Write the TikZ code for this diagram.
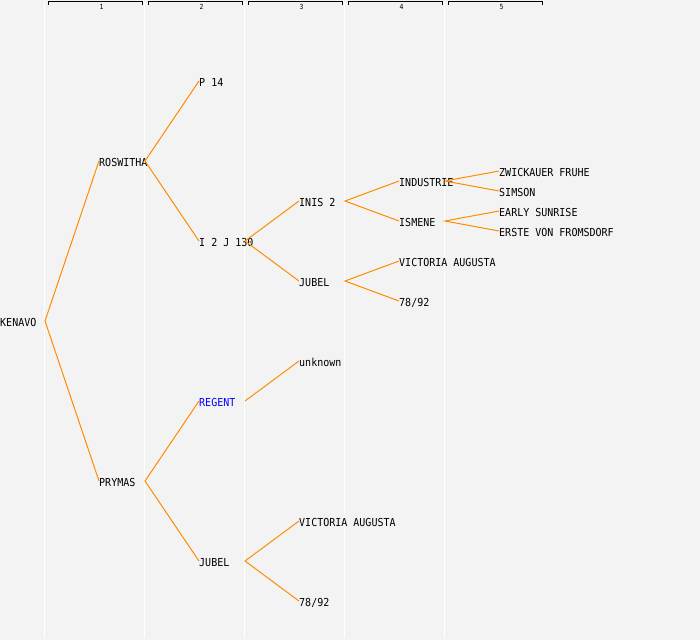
\documentclass[tikz,border=0pt]{standalone}
\usepackage{fontspec}
\setmonofont{DejaVu Sans Mono}[FakeStretch=0.91]
\definecolor{bgray}{HTML}{F3F3F3}
\definecolor{lineorange}{HTML}{FF8C00}
\definecolor{regentblue}{HTML}{0000FF}
\begin{document}
\begin{tikzpicture}[x=1pt,y=-1pt,
  lbl/.style={anchor=west, inner sep=0pt, text height=10.5pt, text depth=0pt,
    font=\ttfamily\fontsize{11}{11}\selectfont},
  hdr/.style={inner sep=0pt, font=\ttfamily\fontsize{7}{7}\selectfont},
  link/.style={draw=lineorange, line width=1pt},
  colline/.style={draw=white, line width=1pt},
  bracket/.style={draw=black, line width=1pt}]
\useasboundingbox (0,0) rectangle (700,640);
\fill[bgray] (0,0) rectangle (700,640);
% column separators
\foreach \x in {44.5,144.5,244.5,344.5,444.5} \draw[colline] (\x,2) -- (\x,638);
% header brackets and numbers
\foreach \i in {1,...,5} {
  \draw[bracket] ({48.5+100*(\i-1)},4.5) -- ({48.5+100*(\i-1)},1.5) -- ({142.5+100*(\i-1)},1.5) -- ({142.5+100*(\i-1)},4.5);
  \node[hdr] (h\i) at ({101.5+100*(\i-1)},6.5) {\i};
}
% nodes
\node[lbl] (kenavo) at (0,321) {KENAVO};
\node[lbl] (roswitha) at (99,161) {ROSWITHA};
\node[lbl] (prymas) at (99,481) {PRYMAS};
\node[lbl] (p14) at (199,81) {P 14};
\node[lbl] (i2j) at (199,241) {I 2 J 130};
\node[lbl,text=regentblue] (regent) at (199,401) {REGENT};
\node[lbl] (jubelA) at (199,561) {JUBEL};
\node[lbl] (inis) at (299,201) {INIS 2};
\node[lbl] (jubelB) at (299,281) {JUBEL};
\node[lbl] (unknown) at (299,361) {unknown};
\node[lbl] (victoriaA) at (299,521) {VICTORIA AUGUSTA};
\node[lbl] (sevA) at (299,601) {78/92};
\node[lbl] (industrie) at (399,181) {INDUSTRIE};
\node[lbl] (ismene) at (399,221) {ISMENE};
\node[lbl] (victoriaB) at (399,261) {VICTORIA AUGUSTA};
\node[lbl] (sevB) at (399,301) {78/92};
\node[lbl] (zwick) at (499,171) {ZWICKAUER FRUHE};
\node[lbl] (simson) at (499,191) {SIMSON};
\node[lbl] (early) at (499,211) {EARLY SUNRISE};
\node[lbl] (erste) at (499,231) {ERSTE VON FROMSDORF};
% exit points
\coordinate (kenavo-o) at (45,321);
\coordinate (roswitha-o) at (145,161);
\coordinate (prymas-o) at (145,481);
\coordinate (i2j-o) at (245,241);
\coordinate (regent-o) at (245,401);
\coordinate (jubelA-o) at (245,561);
\coordinate (inis-o) at (345,201);
\coordinate (jubelB-o) at (345,281);
\coordinate (industrie-o) at (445,181);
\coordinate (ismene-o) at (445,221);
% connectors
\draw[link] (roswitha.west) -- (kenavo-o) -- (prymas.west);
\draw[link] (p14.west) -- (roswitha-o) -- (i2j.west);
\draw[link] (regent.west) -- (prymas-o) -- (jubelA.west);
\draw[link] (inis.west) -- (i2j-o) -- (jubelB.west);
\draw[link] (regent-o) -- (unknown.west);
\draw[link] (victoriaA.west) -- (jubelA-o) -- (sevA.west);
\draw[link] (industrie.west) -- (inis-o) -- (ismene.west);
\draw[link] (victoriaB.west) -- (jubelB-o) -- (sevB.west);
\draw[link] (zwick.west) -- (industrie-o) -- (simson.west);
\draw[link] (early.west) -- (ismene-o) -- (erste.west);
\end{tikzpicture}
\end{document}
